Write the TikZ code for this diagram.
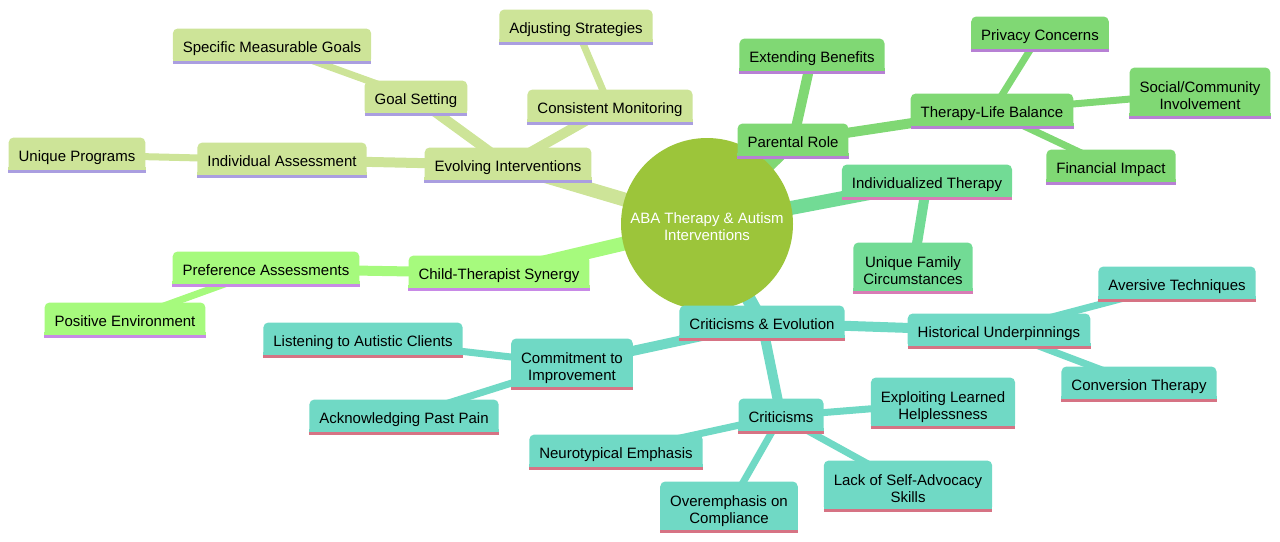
\documentclass[tikz,border=0pt]{standalone}
\usepackage{fontspec}
\setmainfont{Liberation Sans}
\usetikzlibrary{backgrounds}
\definecolor{rootgreen}{HTML}{9CC53A}
\definecolor{evofill}{HTML}{CDE498}
\definecolor{evoline}{HTML}{AA9EE0}
\definecolor{synfill}{HTML}{A6FA7D}
\definecolor{synline}{HTML}{C88AE6}
\definecolor{parfill}{HTML}{80D874}
\definecolor{parline}{HTML}{B780D4}
\definecolor{indfill}{HTML}{72DB95}
\definecolor{indline}{HTML}{D87BB5}
\definecolor{crifill}{HTML}{70D9C5}
\definecolor{criline}{HTML}{D67384}
\newcommand{\tallstrut}{\rule[-3.5pt]{0pt}{20pt}}

\tikzset{
 topic/.style 2 args={fill=#1,rounded corners=5pt,inner xsep=10pt,inner ysep=7.5pt,
   minimum height=35pt,align=center,execute at begin node=\tallstrut,
   append after command={
     ([yshift=3pt]\tikzlastnode.south west) edge[draw=#1,line width=6pt] ([yshift=3pt]\tikzlastnode.south east)
     ([yshift=1.5pt]\tikzlastnode.south west) edge[draw=#2,line width=3pt] ([yshift=1.5pt]\tikzlastnode.south east)}},
 pair/.style={text height=36pt,text depth=3pt,inner ysep=6pt},
 evo/.style={topic={evofill}{evoline}},
 syn/.style={topic={synfill}{synline}},
 par/.style={topic={parfill}{parline}},
 ind/.style={topic={indfill}{indline}},
 cri/.style={topic={crifill}{criline}},
 trunk/.style={line width=14pt},
 limb/.style={line width=10pt},
 twig/.style={line width=7pt}
}

\begin{document}
\begin{tikzpicture}[x=1pt,y=-1pt,font=\fontsize{15}{17}\selectfont]
 \useasboundingbox (0,0) rectangle (1280,541);
 % centre
 \node[circle,fill=rootgreen,minimum size=172pt,text=white,align=center,
   text height=36pt,text depth=3pt] (root) at (707,224)
   {ABA Therapy \& Autism\\Interventions};
 % evolving interventions
 \node[evo] (evolve) at (508,165) {Evolving Interventions};
 \node[evo] (goal) at (416,98) {Goal Setting};
 \node[evo] (smart) at (272,46) {Specific Measurable Goals};
 \node[evo] (monitor) at (610,107) {Consistent Monitoring};
 \node[evo] (adjust) at (576,27) {Adjusting Strategies};
 \node[evo] (assess) at (282,160) {Individual Assessment};
 \node[evo] (unique) at (77,155) {Unique Programs};
 % synergy
 \node[syn] (synergy) at (499,273) {Child-Therapist Synergy};
 \node[syn] (prefer) at (266,269) {Preference Assessments};
 \node[syn] (positive) at (125,320) {Positive Environment};
 % parents
 \node[par] (parent) at (793,141) {Parental Role};
 \node[par] (extend) at (812,56) {Extending Benefits};
 \node[par] (balance) at (992,111) {Therapy-Life Balance};
 \node[par] (privacy) at (1040,34) {Privacy Concerns};
 \node[par,pair] (social) at (1200,93) {Social/Community\\Involvement};
 \node[par] (finance) at (1111,167) {Financial Impact};
 % individualized
 \node[ind] (indiv) at (927,182) {Individualized Therapy};
 \node[ind,pair] (family) at (913,268) {Unique Family\\Circumstances};
 % criticisms
 \node[cri] (critic) at (762,323) {Criticisms \& Evolution};
 \node[cri] (history) at (999,331) {Historical Underpinnings};
 \node[cri] (aversive) at (1177,284) {Aversive Techniques};
 \node[cri] (conversion) at (1139,384) {Conversion Therapy};
 \node[cri,pair] (commit) at (572,364) {Commitment to\\Improvement};
 \node[cri] (listen) at (363,340) {Listening to Autistic Clients};
 \node[cri] (acknowledge) at (404,417) {Acknowledging Past Pain};
 \node[cri] (crits) at (781,416) {Criticisms};
 \node[cri,pair] (helpless) at (943,403) {Exploiting Learned\\Helplessness};
 \node[cri] (neuro) at (616,452) {Neurotypical Emphasis};
 \node[cri,pair] (selfadv) at (908,486) {Lack of Self-Advocacy\\Skills};
 \node[cri,pair] (compliance) at (729,507) {Overemphasis on\\Compliance};

 \begin{scope}[on background layer]
  \draw[trunk,evofill] (root.center) -- (evolve.center);
  \draw[trunk,synfill] (root.center) -- (synergy.center);
  \draw[trunk,parfill] (root.center) -- (parent.center);
  \draw[trunk,indfill] (root.center) -- (indiv.center);
  \draw[trunk,crifill] (root.center) -- (critic.center);
  \foreach \a/\b in {evolve/goal,evolve/monitor,evolve/assess}
   \draw[limb,evofill] (\a.center) -- (\b.center);
  \foreach \a/\b in {goal/smart,monitor/adjust,assess/unique}
   \draw[twig,evofill] (\a.center) -- (\b.center);
  \draw[limb,synfill] (synergy.center) -- (prefer.center);
  \draw[twig,synfill] (prefer.center) -- (positive.center);
  \foreach \a/\b in {parent/extend,parent/balance}
   \draw[limb,parfill] (\a.center) -- (\b.center);
  \foreach \a/\b in {balance/privacy,balance/social,balance/finance}
   \draw[twig,parfill] (\a.center) -- (\b.center);
  \draw[limb,indfill] (indiv.center) -- (family.center);
  \foreach \a/\b in {critic/history,critic/commit,critic/crits}
   \draw[limb,crifill] (\a.center) -- (\b.center);
  \foreach \a/\b in {history/aversive,history/conversion,commit/listen,commit/acknowledge,
    crits/helpless,crits/neuro,crits/selfadv,crits/compliance}
   \draw[twig,crifill] (\a.center) -- (\b.center);
 \end{scope}
\end{tikzpicture}
\end{document}
